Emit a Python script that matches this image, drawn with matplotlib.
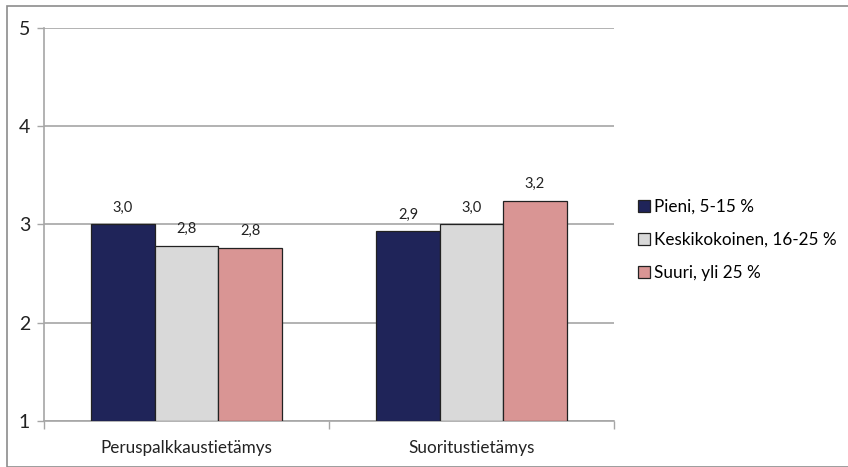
import numpy as np
import matplotlib
matplotlib.use("Agg")
import matplotlib.pyplot as plt
from matplotlib.patches import Rectangle

plt.rcParams['font.family'] = ['Lato', 'DejaVu Sans']

categories = ['Peruspalkkaustietämys', 'Suoritustietämys']
series = ['Pieni, 5-15 %', 'Keskikokoinen, 16-25 %', 'Suuri, yli 25 %']
values = [
    [3.00, 2.93],
    [2.78, 3.00],
    [2.76, 3.24],
]
colors = ['#1F2459', '#D9D9D9', '#D99594']

fig = plt.figure(figsize=(8.48, 4.67), dpi=100)
ax = fig.add_axes([0.052, 0.0985, 0.672, 0.842])

x = np.arange(len(categories))
width = 0.223
for i, (name, vals, col) in enumerate(zip(series, values, colors)):
    pos = x + (i - 1) * width
    ax.bar(pos, np.array(vals) - 1, width, bottom=1, color=col,
           edgecolor='#222222', linewidth=0.9, label=name, zorder=3)
    for px, v in zip(pos, vals):
        ax.text(px, v + 0.1, f"{v:.1f}".replace('.', ','), ha='center', va='bottom',
                fontsize=10.5, color='#222222')

ax.set_xlim(-0.5, 1.5)
ax.set_ylim(1, 5)
ax.set_yticks([1, 2, 3, 4, 5])
ax.yaxis.grid(True, color='#A6A6A6', linewidth=1.2, zorder=0)
ax.set_xticks([-0.5, 0.5, 1.5], minor=False)
ax.set_xticklabels([])
ax.set_xticks(x, minor=True)
ax.set_xticklabels(categories, minor=True, fontsize=12.3, color='#222222')
ax.tick_params(axis='x', which='major', length=6, color='#A6A6A6', width=1)
ax.tick_params(axis='x', which='minor', length=0, pad=14)
ax.tick_params(axis='y', length=5, color='#A6A6A6', width=1, labelsize=14,
               labelcolor='#222222', pad=5)
for side in ['top', 'right']:
    ax.spines[side].set_visible(False)
for side in ['left', 'bottom']:
    ax.spines[side].set_color('#A6A6A6')
    ax.spines[side].set_linewidth(1.2)

ax.legend(loc='center left', bbox_to_anchor=(1.03, 0.46), frameon=False,
          fontsize=12.3, handlelength=0.7, handleheight=0.7, handletextpad=0.25,
          labelspacing=1.0, borderaxespad=0)

# thin frame around the chart area
fig.patches.append(Rectangle((7 / 848, 0.0), 1.0, 1 - 6 / 467, transform=fig.transFigure,
                             fill=False, edgecolor='#8C8C8C', linewidth=1.2))

fig.savefig('out.png', dpi=100)
